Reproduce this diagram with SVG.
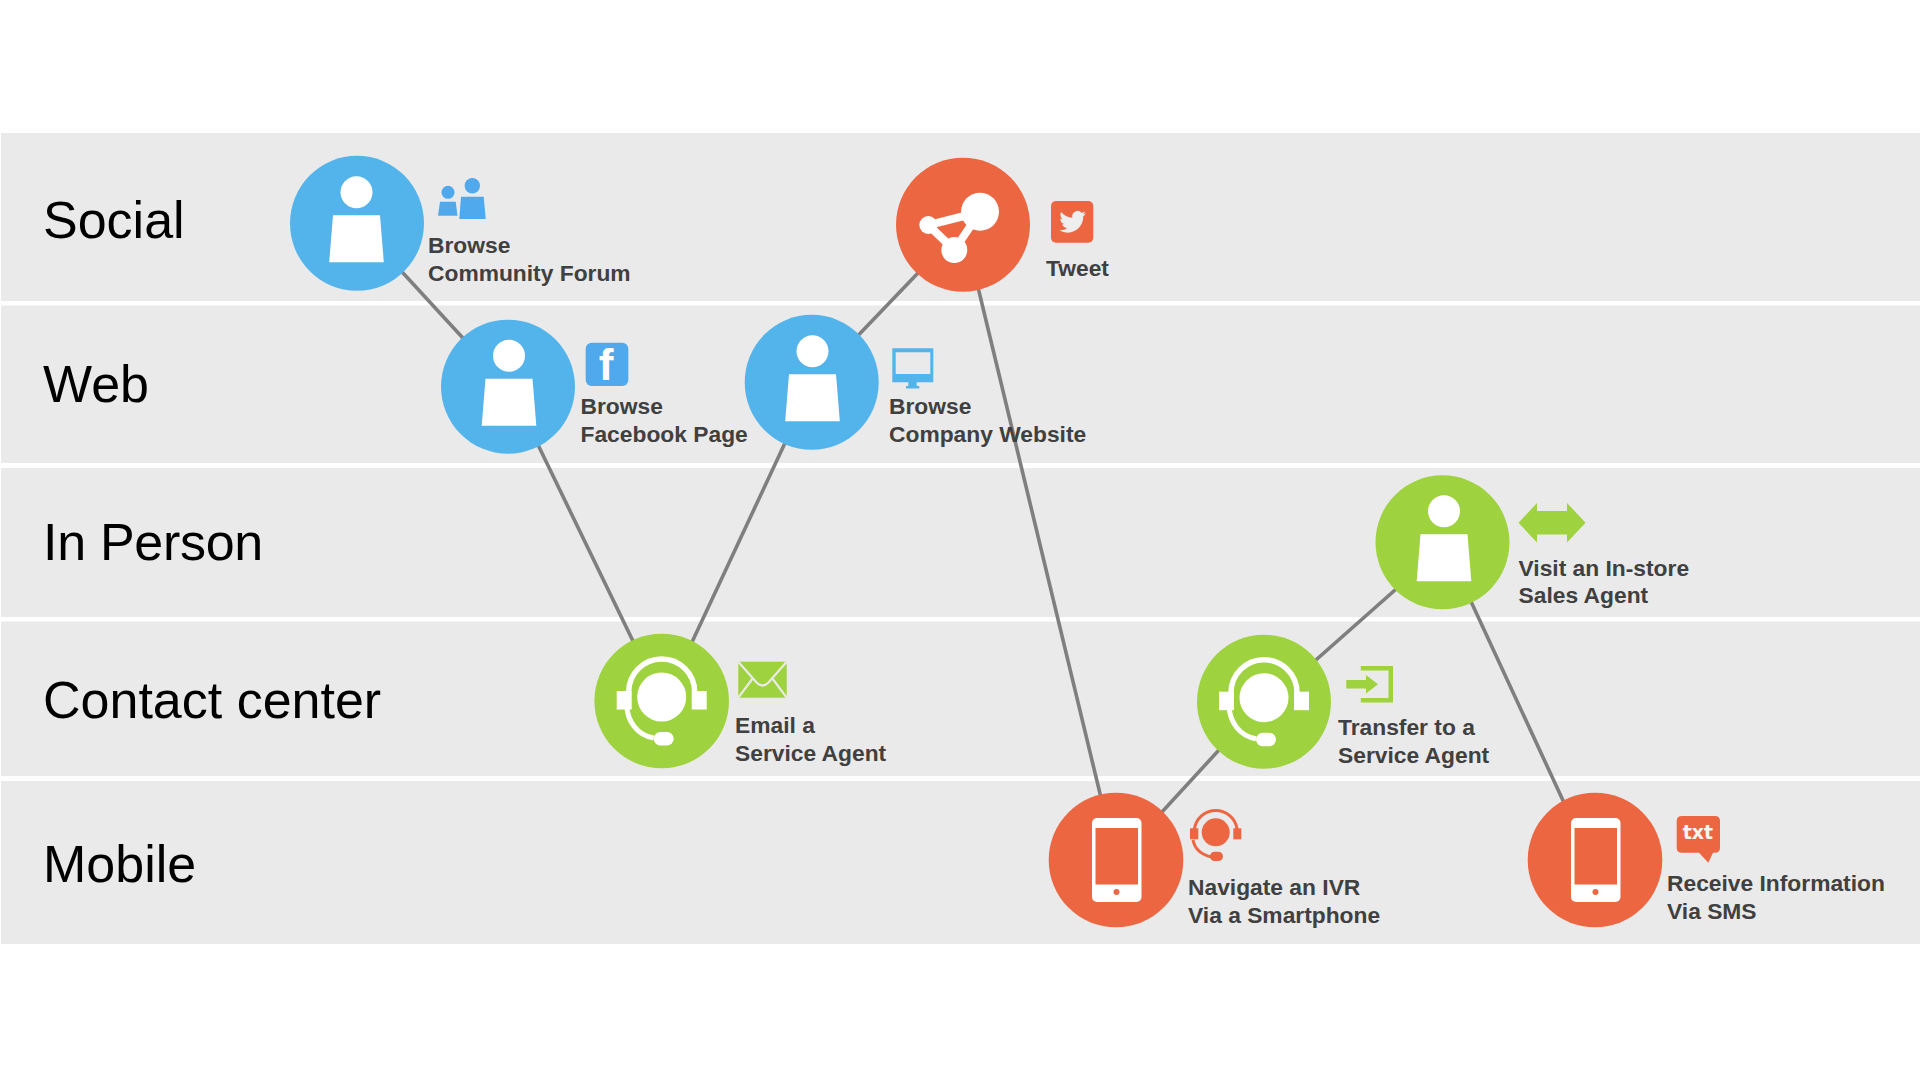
<svg xmlns="http://www.w3.org/2000/svg" xmlns:xlink="http://www.w3.org/1999/xlink" width="1920" height="1080" viewBox="0 0 1920 1080">
<style>
.band{fill:#eaeaea}
.row{font-family:"Liberation Sans",Arial,sans-serif;font-size:52px;fill:#000}
.lbl{font-family:"Liberation Sans",Arial,sans-serif;font-weight:700;font-size:22.8px;fill:#404040}
.conn line{stroke:#7f7f7f;stroke-width:3.6;fill:none}
.b{fill:#53b4ec}.bi{fill:#4fa9ec}.o{fill:#ec6642}.g{fill:#9fd23f}
.w{fill:#fff}
</style>
<defs>
<g id="person"><circle cx="0" cy="-31" r="16" class="w"/><polygon points="-23.5,-8 23.5,-8 27.3,39 -27.3,39" class="w"/></g>
<g id="headset">
<circle cx="0" cy="-4" r="24.500" class="w"/>
<path d="M-33 -9A33 33 0 0 1 33 -9" fill="none" stroke="#fff" stroke-width="5.500"/>
<path d="M-35 5C-34 20 -25 34 -8 37" fill="none" stroke="#fff" stroke-width="5"/>
<rect x="-45" y="-10" width="15" height="18.5" class="w"/><rect x="30" y="-10" width="15" height="18.5" class="w"/>
<rect x="-8" y="31" width="20" height="13.500" rx="6.700" class="w"/>
</g>
<g id="phone"><rect x="-24" y="-42" width="49.500" height="84" rx="5" class="w"/><rect x="-20.500" y="-32" width="42.500" height="56.500" class="o"/><circle cx="0.500" cy="32" r="3" class="o"/></g>
</defs>
<rect width="1920" height="1080" fill="#fff"/>
<g id="bands">
<rect class="band" x="1" y="133" width="1919" height="168"/>
<rect class="band" x="1" y="305.500" width="1919" height="157.500"/>
<rect class="band" x="1" y="468" width="1919" height="149"/>
<rect class="band" x="1" y="621.500" width="1919" height="154.500"/>
<rect class="band" x="1" y="781" width="1919" height="163"/>
</g>
<g id="rows">
<text class="row" x="43" y="238">Social</text>
<text class="row" x="43" y="402">Web</text>
<text class="row" x="43" y="560" letter-spacing="-0.3">In Person</text>
<text class="row" x="43" y="718">Contact center</text>
<text class="row" x="43" y="882">Mobile</text>
</g>
<g id="connectors" class="conn">
<line x1="357" y1="223" x2="508" y2="387"/>
<line x1="510" y1="387" x2="662" y2="701"/>
<line x1="664.500" y1="701" x2="813.500" y2="382"/>
<line x1="813.500" y1="382" x2="964" y2="225"/>
<line x1="963" y1="225" x2="1116" y2="860"/>
<line x1="1116" y1="862" x2="1264" y2="701"/>
<line x1="1264" y1="706" x2="1442.500" y2="548"/>
<line x1="1443.500" y1="542" x2="1590.500" y2="860"/>
</g>
<g id="node-community">
<ellipse class="b" cx="357" cy="223.300" rx="67" ry="67.500"/>
<use href="#person" xlink:href="#person" x="356.500" y="223.300"/>
<g class="bi"><circle cx="472.300" cy="185.700" r="7.700"/><polygon points="461,196.700 483.700,196.700 485.700,219 459.300,219"/><circle cx="448" cy="192.300" r="6.500"/><polygon points="440,201.700 455.700,201.700 457.500,215.700 438,215.700"/></g>
<text class="lbl" x="428" y="253">Browse</text><text class="lbl" x="428" y="281">Community Forum</text>
</g>
<g id="node-facebook">
<ellipse class="b" cx="508" cy="386.700" rx="67" ry="67"/>
<use href="#person" xlink:href="#person" x="509" y="386.700"/>
<rect class="bi" x="585.700" y="342.700" width="42.600" height="43.300" rx="6"/>
<text x="606" y="380" text-anchor="middle" font-family="Liberation Sans,Arial,sans-serif" font-weight="700" font-size="44" fill="#fff">f</text>
<text class="lbl" x="580.500" y="414">Browse</text><text class="lbl" x="580.500" y="442">Facebook Page</text>
</g>
<g id="node-website">
<ellipse class="b" cx="811.700" cy="382.300" rx="67" ry="67.500"/>
<use href="#person" xlink:href="#person" x="812.500" y="382.300"/>
<path class="b" fill-rule="evenodd" d="M892.300 348.300H933.300V382.300H892.300ZM895.700 352.300V374H930.300V352.300Z"/>
<rect class="b" x="908.300" y="382" width="8.400" height="4.500"/><rect class="b" x="906" y="386" width="13.300" height="2.500"/>
<text class="lbl" x="889" y="414">Browse</text><text class="lbl" x="889" y="442">Company Website</text>
</g>
<g id="node-tweet">
<circle class="o" cx="963" cy="224.700" r="67"/>
<g fill="none" stroke="#fff" stroke-width="8"><path d="M928.300 225L954.300 250L980 212Z"/></g>
<circle class="w" cx="980" cy="211.700" r="19"/><circle class="w" cx="928.300" cy="225" r="9"/><circle class="w" cx="954.300" cy="250" r="13"/>
<rect class="o" x="1051" y="201" width="42.300" height="41.700" rx="5"/>
<path transform="translate(1059.3 208.500) scale(1.11)" fill="#eee" d="M23.953 4.57a10 10 0 01-2.825.775 4.958 4.958 0 002.163-2.723c-.951.555-2.005.959-3.127 1.184a4.92 4.92 0 00-8.384 4.482C7.69 8.095 4.067 6.13 1.64 3.162a4.822 4.822 0 00-.666 2.475c0 1.71.87 3.213 2.188 4.096a4.904 4.904 0 01-2.228-.616v.06a4.923 4.923 0 003.946 4.827 4.996 4.996 0 01-2.212.085 4.936 4.936 0 004.604 3.417 9.867 9.867 0 01-6.102 2.105c-.39 0-.779-.023-1.17-.067a13.995 13.995 0 007.557 2.209c9.053 0 13.998-7.496 13.998-13.985 0-.21 0-.42-.015-.63A9.935 9.935 0 0024 4.59z"/>
<text class="lbl" x="1046" y="276">Tweet</text>
</g>
<g id="node-email">
<circle class="g" cx="661.700" cy="701" r="67.300"/>
<use href="#headset" xlink:href="#headset" x="661.700" y="701"/>
<rect class="g" x="738.300" y="661.700" width="48.400" height="36"/>
<path d="M738.300 661.700L757 683Q762.500 688 768 683L786.700 661.700M738.300 697.700L753 678M786.700 697.700L772 678" fill="none" stroke="#eaeaea" stroke-width="2.200"/>
<text class="lbl" x="735" y="733">Email a</text><text class="lbl" x="735" y="761">Service Agent</text>
</g>
<g id="node-instore">
<circle class="g" cx="1442.500" cy="542.300" r="67"/>
<use href="#person" xlink:href="#person" x="1444" y="542.300"/>
<polygon class="g" points="1518.500,522.800 1537,503 1537,511 1567,511 1567,503 1585.600,522.800 1567,542.500 1567,534.500 1537,534.500 1537,542.500"/>
<text class="lbl" x="1518.500" y="576">Visit an In-store</text><text class="lbl" x="1518.500" y="603">Sales Agent</text>
</g>
<g id="node-transfer">
<circle class="g" cx="1264" cy="701.700" r="67"/>
<use href="#headset" xlink:href="#headset" x="1264" y="701.700"/>
<path class="g" d="M1360.800 666H1393V702.500H1360.800V698H1388.500V670.500H1360.800Z"/>
<polygon class="g" points="1346.300,680 1366,680 1366,675 1378,684.300 1366,693.600 1366,688.600 1346.300,688.600"/>
<text class="lbl" x="1338" y="735">Transfer to a</text><text class="lbl" x="1338" y="763">Service Agent</text>
</g>
<g id="node-ivr">
<circle class="o" cx="1116" cy="860" r="67.300"/>
<use href="#phone" xlink:href="#phone" x="1116" y="860"/>
<circle class="o" cx="1215.700" cy="832.300" r="14"/>
<path d="M1194.350 829.500A21.500 21.500 0 0 1 1237.050 829.500" fill="none" stroke="#ec6642" stroke-width="3"/>
<path d="M1193 840C1195 850 1202 855 1212 857" fill="none" stroke="#ec6642" stroke-width="3"/>
<rect class="o" x="1190" y="828.300" width="8.300" height="11"/><rect class="o" x="1233.300" y="828.300" width="8" height="11"/>
<rect class="o" x="1210" y="851.700" width="13" height="9.300" rx="4.600"/>
<text class="lbl" x="1188" y="895">Navigate an IVR</text><text class="lbl" x="1188" y="922.500">Via a Smartphone</text>
</g>
<g id="node-sms">
<circle class="o" cx="1595" cy="860" r="67.300"/>
<use href="#phone" xlink:href="#phone" x="1595" y="860"/>
<path class="o" d="M1682 816H1715Q1720 816 1720 821V848Q1720 852.700 1715 852.700H1713L1708.300 862.700L1699 852.700H1682Q1676.700 852.700 1676.700 848V821Q1676.700 816 1682 816Z"/>
<text x="1698" y="839" text-anchor="middle" font-family="DejaVu Sans,sans-serif" font-weight="700" font-size="19" fill="#f4f4f4">txt</text>
<text class="lbl" x="1667" y="891">Receive Information</text><text class="lbl" x="1667" y="919">Via SMS</text>
</g>
</svg>
